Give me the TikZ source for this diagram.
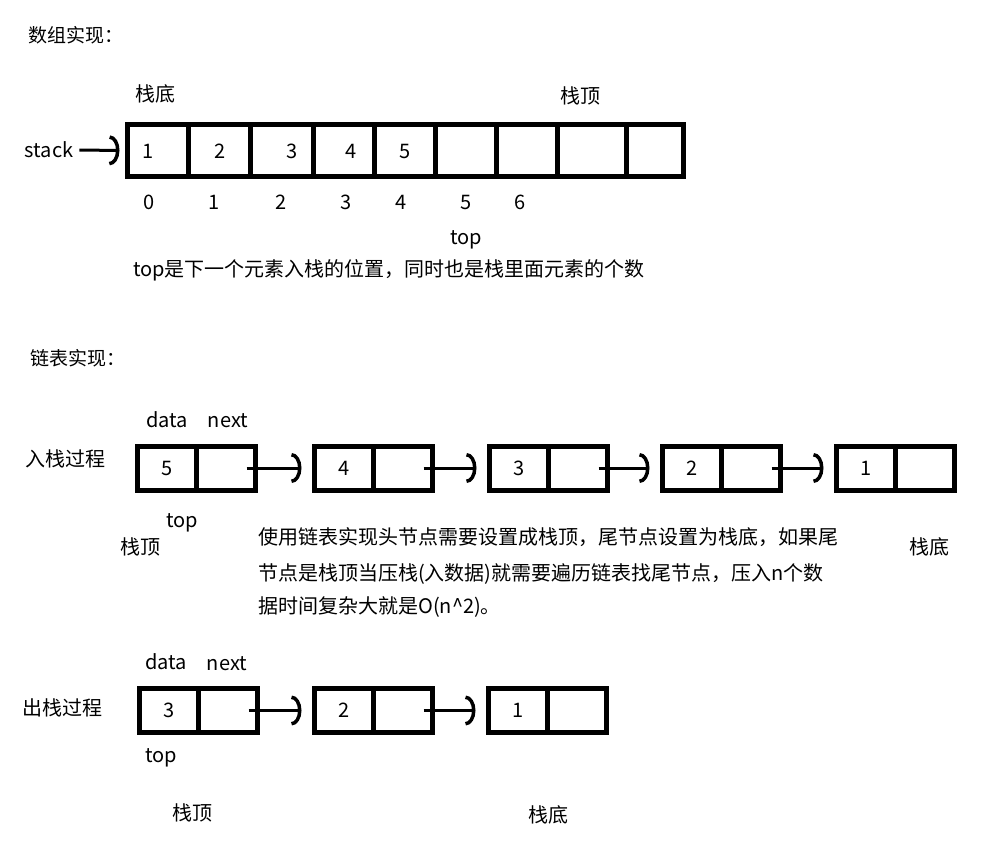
\documentclass[tikz,border=0pt]{standalone}
\usepackage{fontspec}
\setmainfont{Noto Sans CJK SC}
\usepackage{tikz}
\usetikzlibrary{arrows.meta, positioning}

\begin{document}
\begin{tikzpicture}[
    x=1pt, y=-1pt,
    every node/.style={font=\fontsize{20}{24}\selectfont, text height=16pt, text depth=2pt, inner sep=0pt},
    heading/.style={font=\fontsize{19}{24}\selectfont},
    cell/.style={rectangle, draw, line width=5pt, minimum height=52pt, outer sep=0pt},
    half/.style={rectangle, draw, line width=5pt, minimum width=59pt, minimum height=44pt, outer sep=0pt},
    link/.style={line width=3pt, -{Arc Barb[length=10pt, width=30pt, line width=3.5pt]}}
]

\fill[white] (0,0) rectangle (991,851);
\useasboundingbox (0,0) rectangle (991,851);

% Array: cells, values and indices
\node[heading] (arrtitle) at (76,36) {数组实现：};
\node (arrbot) at (155,94) {栈底};
\node (arrtop) at (580,96) {栈顶};
\foreach \a/\b [count=\i from 0] in {127.5/188, 188/250.5, 250.5/313, 313/374, 374/435, 435/496, 496/557, 557/626, 626/683.5} {
    \pgfmathsetmacro\w{\b-\a}
    \node[cell, minimum width=\w pt, anchor=west] (c\i) at (\a,150.5) {};
}
\foreach \v/\x in {1/148, 2/220, 3/292, 4/351, 5/405}
    \node (v\v) at (\x,151) {\v};
\foreach \v/\x in {0/149, 1/214, 2/281, 3/346, 4/401, 5/466, 6/520}
    \node (i\v) at (\x,202) {\v};
\node (stk) at (49,150) {stack};
\node (arrptr) at (466,237) {top};
\node[anchor=west] (arrnote) at (133,269) {top是下一个元素入栈的位置，同时也是栈里面元素的个数};

% Arrow into the array
\draw[link] ([xshift=6pt]stk.east) -- ([xshift=-8pt]c0.west);

% Linked list: push
\node[heading] (listtitle) at (78,358) {链表实现：};
\node (pushlbl) at (65,459) {入栈过程};
\foreach \n/\x/\v in {1/135/5, 2/312/4, 3/487/3, 4/660/2, 5/834/1} {
    \node[half, anchor=west] (pd\n) at (\x+2.5,468) {};
    \node[half, right=0pt of pd\n] (pn\n) {};
    \node (pv\n) at (pd\n) {\v};
}
\foreach \a/\b in {1/2, 2/3, 3/4, 4/5}
    \draw[link] ([xshift=-9pt]pn\a.east) -- ([xshift=-13pt]pd\b.west);
\node (pdata) at (167,420) {data};
\node (pnext) at (228,420) {next};
\node (pptr) at (182,520) {top};
\node (ptopcn) at (140,547) {栈顶};
\node (pbotcn) at (929,547) {栈底};
\node[anchor=west] (para1) at (258,537) {使用链表实现头节点需要设置成栈顶，尾节点设置为栈底，如果尾};
\node[anchor=west] (para2) at (258,573) {节点是栈顶当压栈(入数据)就需要遍历链表找尾节点，压入n个数};
\node[anchor=west] (para3) at (258,606) {据时间复杂大就是O(n\textasciicircum 2)。};

% Linked list: pop
\node (poplbl) at (62,708) {出栈过程};
\foreach \n/\x/\v in {1/137/3, 2/312/2, 3/486/1} {
    \node[half, anchor=west] (qd\n) at (\x+2.5,710.5) {};
    \node[half, right=0pt of qd\n] (qn\n) {};
    \node (qv\n) at (qd\n) {\v};
}
\foreach \a/\b in {1/2, 2/3}
    \draw[link] ([xshift=-9pt]qn\a.east) -- ([xshift=-13pt]qd\b.west);
\node (qdata) at (166,662) {data};
\node (qnext) at (227,663) {next};
\node (qptr) at (161,755) {top};
\node (qtopcn) at (192,813) {栈顶};
\node (qbotcn) at (548,815) {栈底};

\end{tikzpicture}
\end{document}
